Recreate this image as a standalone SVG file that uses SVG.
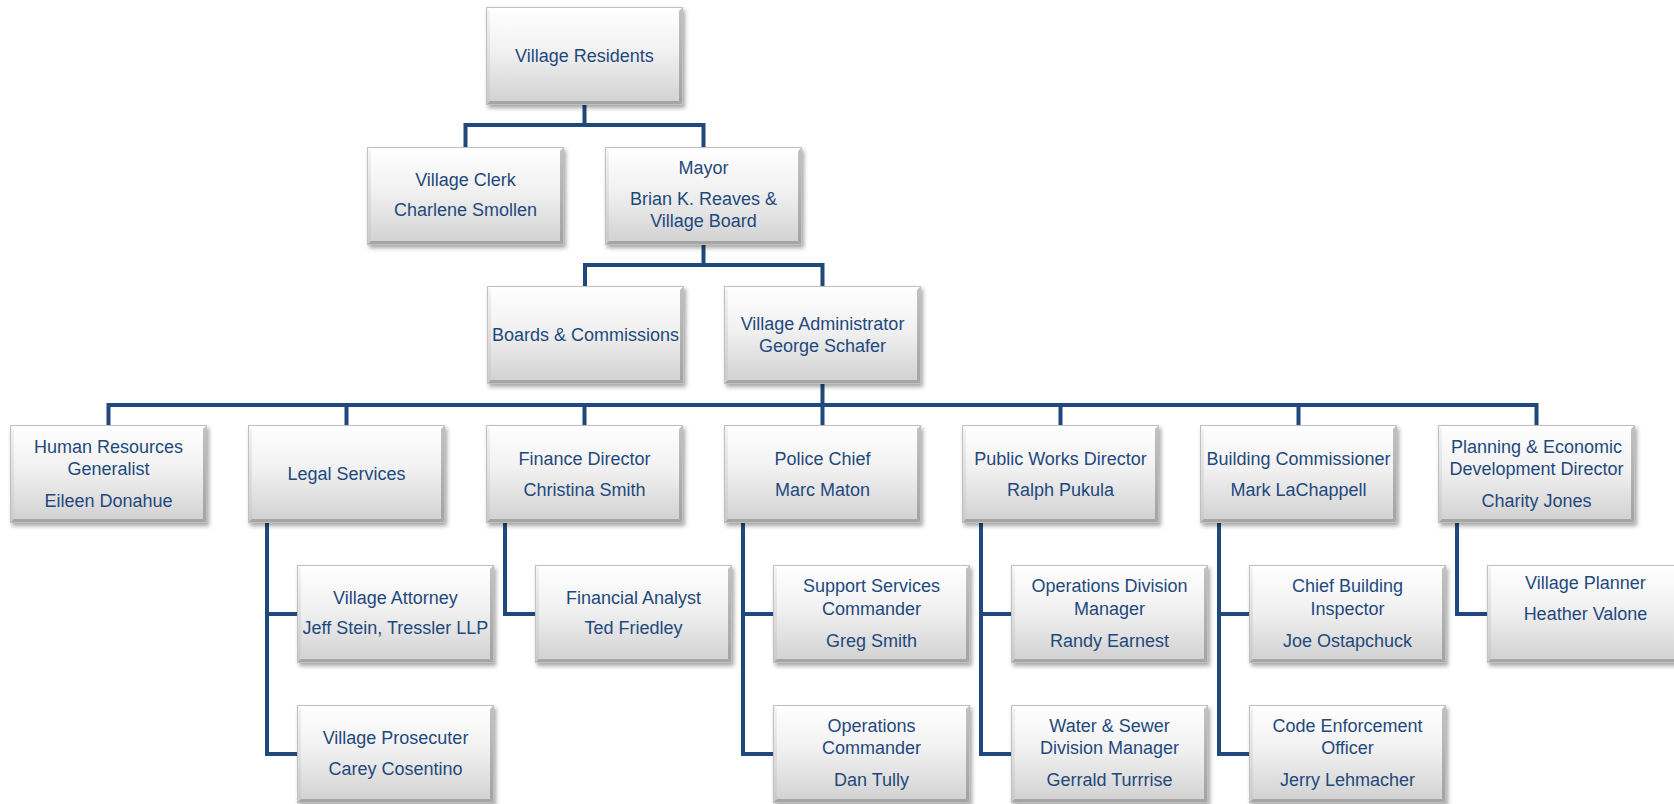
<svg xmlns="http://www.w3.org/2000/svg" width="1674" height="804" viewBox="0 0 1674 804">
<defs>
<linearGradient id="g" x1="0" y1="0" x2="0" y2="1">
<stop offset="0" stop-color="#ffffff"/>
<stop offset="0.45" stop-color="#f1f1f1"/>
<stop offset="1" stop-color="#d0d0d0"/>
</linearGradient>
<linearGradient id="gl" x1="0" y1="0" x2="0" y2="1">
<stop offset="0" stop-color="#f4f4f4"/>
<stop offset="1" stop-color="#c9c9c9"/>
</linearGradient>
<linearGradient id="gr" x1="0" y1="0" x2="0" y2="1">
<stop offset="0" stop-color="#c2c2c2"/>
<stop offset="1" stop-color="#a2a2a2"/>
</linearGradient>
<filter id="sh" x="-10%" y="-10%" width="125%" height="130%">
<feDropShadow dx="2" dy="3" stdDeviation="2" flood-color="#000" flood-opacity="0.35"/>
</filter>
<g id="nb">
<rect x="0" y="0" width="197" height="98" fill="url(#g)"/>
<polygon points="0,0 197,0 193,4 4,4" fill="#ffffff"/>
<polygon points="0,0 4,4 4,94 0,98" fill="url(#gl)"/>
<polygon points="197,0 193,4 193,94 197,98" fill="url(#gr)"/>
<polygon points="0,98 4,94 193,94 197,98" fill="#a5a5a5"/>
<rect x="0.5" y="0.5" width="196" height="97" fill="none" stroke="#c0c0c0" stroke-width="1"/>
</g>
<style>
.n{filter:url(#sh)}
text{font-family:"Liberation Sans",Arial,sans-serif;font-size:18px;fill:#1f497d;text-anchor:middle}
.con{fill:none;stroke:#1f497d;stroke-width:4;stroke-linejoin:miter;stroke-linecap:butt}
</style>
</defs>
<rect width="1674" height="804" fill="#ffffff"/>

<g id="connectors" class="con">
<path d="M584.5 105V125M465.5 147V125H703.5V147"/>
<path d="M703.5 244V265M585 286V265H822.5V286"/>
<path d="M822.5 384V405M108.5 425V405H1536.5V425M346.5 405V425M584.5 405V425M822.5 405V425M1060.5 405V425M1298.5 405V425"/>
<path d="M267 523V754H297M267 614H297"/>
<path d="M505 523V614H535"/>
<path d="M743 523V754H773M743 614H773"/>
<path d="M981 523V754H1011M981 614H1011"/>
<path d="M1219 523V754H1249M1219 614H1249"/>
<path d="M1457 523V614H1487"/>
</g>

<g id="residents"><use class="n" href="#nb" x="486" y="7"/><text x="584.5" y="62">Village Residents</text></g>
<g id="clerk"><use class="n" href="#nb" x="367" y="147"/><text x="465.5" y="186">Village Clerk</text><text x="465.5" y="216">Charlene Smollen</text></g>
<g id="mayor"><use class="n" href="#nb" x="605" y="147"/><text x="703.5" y="174">Mayor</text><text x="703.5" y="205">Brian K. Reaves &amp;</text><text x="703.5" y="227">Village Board</text></g>
<g id="boards"><use class="n" href="#nb" x="487" y="286"/><text x="585.5" y="341">Boards &amp; Commissions</text></g>
<g id="administrator"><use class="n" href="#nb" x="724" y="286"/><text x="822.5" y="330">Village Administrator</text><text x="822.5" y="352">George Schafer</text></g>

<g id="hr"><use class="n" href="#nb" x="10" y="425"/><text x="108.5" y="453">Human Resources</text><text x="108.5" y="475">Generalist</text><text x="108.5" y="507">Eileen Donahue</text></g>
<g id="legal"><use class="n" href="#nb" x="248" y="425"/><text x="346.5" y="480">Legal Services</text></g>
<g id="finance"><use class="n" href="#nb" x="486" y="425"/><text x="584.5" y="465">Finance Director</text><text x="584.5" y="496">Christina Smith</text></g>
<g id="police"><use class="n" href="#nb" x="724" y="425"/><text x="822.5" y="465">Police Chief</text><text x="822.5" y="496">Marc Maton</text></g>
<g id="publicworks"><use class="n" href="#nb" x="962" y="425"/><text x="1060.5" y="465">Public Works Director</text><text x="1060.5" y="496">Ralph Pukula</text></g>
<g id="building"><use class="n" href="#nb" x="1200" y="425"/><text x="1298.5" y="465">Building Commissioner</text><text x="1298.5" y="496">Mark LaChappell</text></g>
<g id="planning"><use class="n" href="#nb" x="1438" y="425"/><text x="1536.5" y="453">Planning &amp; Economic</text><text x="1536.5" y="475">Development Director</text><text x="1536.5" y="507">Charity Jones</text></g>

<g id="attorney"><use class="n" href="#nb" x="297" y="565"/><text x="395.5" y="604">Village Attorney</text><text x="395.5" y="634">Jeff Stein, Tressler LLP</text></g>
<g id="prosecuter"><use class="n" href="#nb" x="297" y="705"/><text x="395.5" y="744">Village Prosecuter</text><text x="395.5" y="775">Carey Cosentino</text></g>
<g id="analyst"><use class="n" href="#nb" x="535" y="565"/><text x="633.5" y="604">Financial Analyst</text><text x="633.5" y="634">Ted Friedley</text></g>
<g id="support"><use class="n" href="#nb" x="773" y="565"/><text x="871.5" y="592">Support Services</text><text x="871.5" y="615">Commander</text><text x="871.5" y="647">Greg Smith</text></g>
<g id="opscommander"><use class="n" href="#nb" x="773" y="705"/><text x="871.5" y="732">Operations</text><text x="871.5" y="754">Commander</text><text x="871.5" y="786">Dan Tully</text></g>
<g id="opsdivision"><use class="n" href="#nb" x="1011" y="565"/><text x="1109.5" y="592">Operations Division</text><text x="1109.5" y="615">Manager</text><text x="1109.5" y="647">Randy Earnest</text></g>
<g id="watersewer"><use class="n" href="#nb" x="1011" y="705"/><text x="1109.5" y="732">Water &amp; Sewer</text><text x="1109.5" y="754">Division Manager</text><text x="1109.5" y="786">Gerrald Turrrise</text></g>
<g id="inspector"><use class="n" href="#nb" x="1249" y="565"/><text x="1347.5" y="592">Chief Building</text><text x="1347.5" y="615">Inspector</text><text x="1347.5" y="647">Joe Ostapchuck</text></g>
<g id="codeofficer"><use class="n" href="#nb" x="1249" y="705"/><text x="1347.5" y="732">Code Enforcement</text><text x="1347.5" y="754">Officer</text><text x="1347.5" y="786">Jerry Lehmacher</text></g>
<g id="planner"><use class="n" href="#nb" x="1487" y="565"/><text x="1585.5" y="589">Village Planner</text><text x="1585.5" y="620">Heather Valone</text></g>
</svg>
